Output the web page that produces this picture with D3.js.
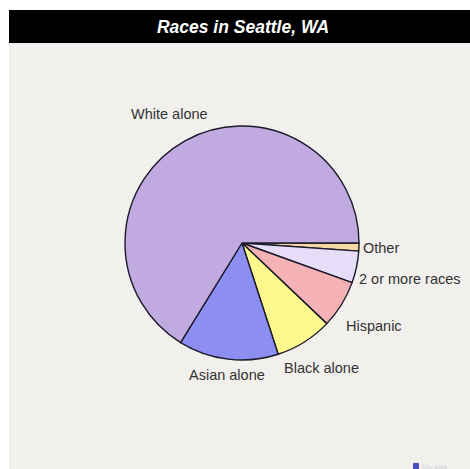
<!DOCTYPE html>
<html>
<head>
<meta charset="utf-8">
<script src="https://cdn.jsdelivr.net/npm/d3@7"></script>
<style>
  body { margin: 0; background: #fff; }
  svg { display: block; font-family: "Liberation Sans", Arial, sans-serif; }
</style>
</head>
<body>
<script>
const width = 470;
const height = 469;

// data (percent of population)
const races = ["Other", "2 or more races", "Hispanic", "Black alone", "Asian alone", "White alone"];
const shares = [1.1, 4.4, 6.6, 7.9, 13.8, 66.2];
const sliceColors = ["#f7d9a6", "#e6def8", "#f4b2b4", "#fdf98c", "#8c8ef2", "#c1aadf"];
// label anchor points (text start, baseline)
const labelPos = [[363, 253], [359, 284], [346, 331], [284, 373], [189, 380], [131, 119]];

const cx = 242, cy = 243, r = 117;

let svg = d3.select("body").append("svg")
    .attr("width", width)
    .attr("height", height)

// panel background
svg.append("rect")
    .attr("x", 9).attr("y", 10)
    .attr("width", width - 9).attr("height", height - 10)
    .attr("fill", "#f2f0ed")

// title bar
svg.append("rect")
    .attr("x", 9).attr("y", 10)
    .attr("width", width - 9).attr("height", 33)
    .attr("fill", "#000")

svg.append("text")
    .attr("x", 243).attr("y", 33)
    .attr("text-anchor", "middle")
    .attr("fill", "#fff")
    .attr("font-size", 17.5)
    .attr("font-weight", "bold")
    .attr("font-style", "italic")
    .text("Races in Seattle, WA")

// pie starts at 3 o'clock and runs clockwise
let pie = d3.pie()
    .sort(null)
    .startAngle(Math.PI / 2)
    .endAngle(Math.PI / 2 + 2 * Math.PI)
    .value(d => d)

let arc = d3.arc()
    .innerRadius(0)
    .outerRadius(r)

let pieG = svg.append("g")
    .attr("transform", "translate(" + cx + "," + cy + ")")

pieG.selectAll("path")
    .data(pie(shares))
    .enter()
    .append("path")
    .attr("d", arc)
    .attr("fill", (d, i) => sliceColors[i])
    .attr("stroke", "#1a1a2a")
    .attr("stroke-width", 1.4)
    .attr("stroke-linejoin", "round")

svg.selectAll("text.lbl")
    .data(races)
    .enter()
    .append("text")
    .attr("class", "lbl")
    .attr("x", (d, i) => labelPos[i][0])
    .attr("y", (d, i) => labelPos[i][1])
    .attr("fill", "#333")
    .attr("font-size", 14.5)
    .text(d => d)

// small watermark in the corner
svg.append("rect")
    .attr("x", 413).attr("y", 463)
    .attr("width", 6).attr("height", 6)
    .attr("fill", "#4a4fc0")
svg.append("text")
    .attr("x", 422).attr("y", 469)
    .attr("fill", "#cfcfd8")
    .attr("font-size", 6)
    .text("City-Data")
</script>
</body>
</html>
